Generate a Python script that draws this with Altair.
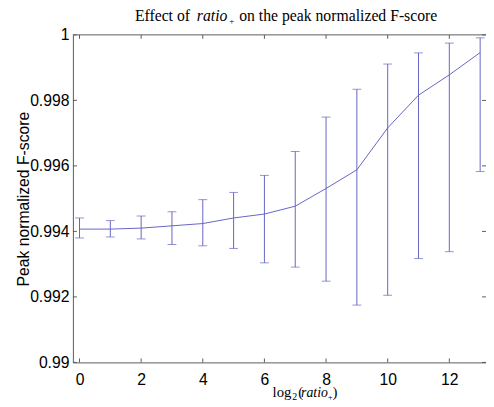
import altair as alt
import pandas as pd

# data
x_vals = list(range(14))
mean_vals = [0.99407, 0.99407, 0.99410, 0.99417, 0.99424, 0.99441, 0.99453,
             0.99477, 0.99531, 0.99588, 0.99716, 0.99816, 0.99878, 0.99946]
upper_vals = [0.99441, 0.99433, 0.99447, 0.99460, 0.99497, 0.99519, 0.99571,
              0.99644, 0.99749, 0.99834, 0.99911, 0.99945, 0.99975, 0.99991]
lower_vals = [0.99380, 0.99383, 0.99377, 0.99360, 0.99356, 0.99348, 0.99304,
              0.99291, 0.99248, 0.99175, 0.99205, 0.99317, 0.99338, 0.99583]
x_ticks = [0, 2, 4, 6, 8, 10, 12]
y_ticks = [0.99, 0.992, 0.994, 0.996, 0.998, 1.0]

W, H = 420, 333
COL = "#6464c4"
AX = "#5a5a5a"

df = pd.DataFrame({"x": x_vals, "m": mean_vals, "hi": upper_vals, "lo": lower_vals})
xt = pd.DataFrame({"t": x_ticks})
yt = pd.DataFrame({"t": y_ticks})
one = pd.DataFrame({"k": [0]})

xscale = alt.Scale(domain=[-0.214, 13.19], nice=False, zero=False)
yscale = alt.Scale(domain=[0.99, 1.0], nice=False, zero=False)

xaxis = alt.Axis(values=x_ticks, ticks=False, grid=False, domain=True, domainColor=AX,
                 labelFont="Liberation Sans", labelFontSize=16, labelColor="black",
                 labelPadding=9, labelFlush=False, title=None)
yaxis = alt.Axis(values=y_ticks, ticks=False, grid=False, domain=True, domainColor=AX,
                 labelFont="Liberation Sans", labelFontSize=16, labelColor="black",
                 labelPadding=4, format=".3~f", title="Peak normalized F-score",
                 titleFont="Liberation Sans", titleFontSize=16, titleFontWeight="normal",
                 titleColor="black", titlePadding=-2)

base = alt.Chart(df)
line = base.mark_line(color=COL, strokeWidth=1).encode(
    x=alt.X("x:Q", scale=xscale, axis=xaxis),
    y=alt.Y("m:Q", scale=yscale, axis=yaxis),
)
bars = base.mark_rule(color=COL, strokeWidth=1).encode(
    x="x:Q", y="lo:Q", y2="hi:Q")
cap_hi = base.mark_tick(color=COL, orient="horizontal", size=9, thickness=1).encode(
    x="x:Q", y="hi:Q")
cap_lo = base.mark_tick(color=COL, orient="horizontal", size=9, thickness=1).encode(
    x="x:Q", y="lo:Q")

# inner ticks (MATLAB box style)
tk_bottom = alt.Chart(xt).mark_rule(color=AX).encode(x="t:Q", y=alt.value(H), y2=alt.value(H - 4))
tk_top = alt.Chart(xt).mark_rule(color=AX).encode(x="t:Q", y=alt.value(0), y2=alt.value(4))
tk_left = alt.Chart(yt).mark_rule(color=AX).encode(y="t:Q", x=alt.value(0), x2=alt.value(4))
tk_right = alt.Chart(yt).mark_rule(color=AX).encode(y="t:Q", x=alt.value(W - 4), x2=alt.value(W))
top_line = alt.Chart(one).mark_rule(color=AX).encode(x=alt.value(0), x2=alt.value(W), y=alt.value(0))

def txt(s, x, y, size=16, style="normal", font="Liberation Serif"):
    return alt.Chart(one).mark_text(text=s, align="left", baseline="alphabetic",
                                    font=font, fontSize=size, fontStyle=style,
                                    color="black").encode(x=alt.value(x), y=alt.value(y))

# title: Effect of ratio+ on the peak normalized F-score
ty = -14
title_parts = [
    txt("Effect of", 63, ty),
    txt("ratio", 126, ty, style="italic"),
    txt("+", 159, ty + 3, size=9),
    txt("on the peak normalized F-score", 169, ty),
]
# x label: log2(ratio+)
xl_y = 400 - 32
xlab_parts = [
    txt("log", 203, xl_y, size=15),
    txt("2", 223, xl_y + 3, size=10),
    txt("(", 229, xl_y, size=15),
    txt("ratio", 232, xl_y, size=14, style="italic"),
    txt("+", 259, xl_y + 3, size=9),
    txt(")", 264, xl_y, size=15),
]

chart = alt.layer(bars, cap_hi, cap_lo, line, tk_bottom, tk_top, tk_left, tk_right, top_line,
                  *title_parts, *xlab_parts).properties(
    width=W, height=H,
    autosize=alt.AutoSizeParams(type="none"),
    padding={"left": 66, "top": 24, "right": 0, "bottom": 42},
    background="white",
).configure_view(stroke=None)

chart.save("out.html", embed_options={"renderer": "svg", "actions": False})
